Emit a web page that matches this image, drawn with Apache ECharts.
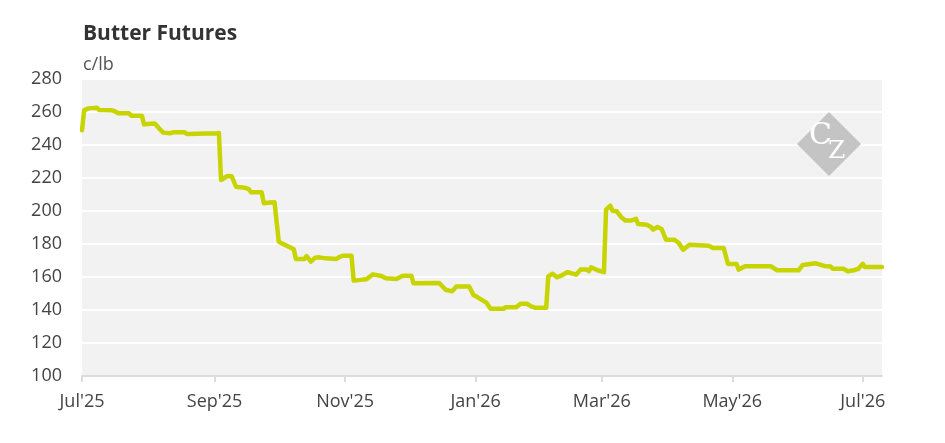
<!DOCTYPE html>
<html>
<head>
<meta charset="utf-8">
<script src="https://cdn.jsdelivr.net/npm/echarts@6/dist/echarts.min.js"></script>
<style>
  html, body { margin: 0; padding: 0; background: #fff; }
  #chart { width: 945px; height: 443px; }
</style>
</head>
<body>
<div id="chart"></div>
<script>
// butter futures, c/lb
const dates = [
  '2025-07-01', '2025-07-02', '2025-07-04', '2025-07-08', '2025-07-09', '2025-07-15', '2025-07-16', '2025-07-18',
  '2025-07-23', '2025-07-24', '2025-07-29', '2025-07-30', '2025-08-02', '2025-08-04', '2025-08-06', '2025-08-08',
  '2025-08-11', '2025-08-13', '2025-08-18', '2025-08-19', '2025-09-02', '2025-09-03', '2025-09-04', '2025-09-07',
  '2025-09-09', '2025-09-11', '2025-09-15', '2025-09-17', '2025-09-18', '2025-09-23', '2025-09-24', '2025-09-27',
  '2025-09-29', '2025-10-01', '2025-10-04', '2025-10-08', '2025-10-09', '2025-10-13', '2025-10-14', '2025-10-16',
  '2025-10-18', '2025-10-20', '2025-10-23', '2025-10-28', '2025-10-29', '2025-10-31', '2025-11-04', '2025-11-05',
  '2025-11-11', '2025-11-14', '2025-11-18', '2025-11-20', '2025-11-25', '2025-11-28', '2025-12-02', '2025-12-03',
  '2025-12-15', '2025-12-18', '2025-12-21', '2025-12-23', '2025-12-29', '2025-12-31', '2026-01-02', '2026-01-06',
  '2026-01-08', '2026-01-14', '2026-01-15', '2026-01-20', '2026-01-22', '2026-01-25', '2026-01-27', '2026-01-29',
  '2026-02-03', '2026-02-04', '2026-02-06', '2026-02-08', '2026-02-10', '2026-02-13', '2026-02-17', '2026-02-19',
  '2026-02-22', '2026-02-23', '2026-02-24', '2026-02-27', '2026-03-02', '2026-03-03', '2026-03-05', '2026-03-06',
  '2026-03-08', '2026-03-10', '2026-03-12', '2026-03-15', '2026-03-17', '2026-03-18', '2026-03-22', '2026-03-24',
  '2026-03-25', '2026-03-27', '2026-03-29', '2026-03-31', '2026-04-04', '2026-04-06', '2026-04-08', '2026-04-11',
  '2026-04-20', '2026-04-22', '2026-04-27', '2026-04-29', '2026-05-03', '2026-05-04', '2026-05-07', '2026-05-19',
  '2026-05-22', '2026-06-01', '2026-06-03', '2026-06-09', '2026-06-13', '2026-06-16', '2026-06-17', '2026-06-22',
  '2026-06-24', '2026-06-27', '2026-06-29', '2026-07-01', '2026-07-02', '2026-07-10'
];
const prices = [
  249.0, 261.0, 262.2, 262.6, 261.2, 261.0, 260.6, 259.2,
  259.2, 257.8, 257.8, 252.5, 252.9, 253.1, 250.1, 247.5,
  247.1, 247.7, 247.7, 246.7, 247.1, 247.3, 218.8, 221.2,
  221.0, 214.7, 214.1, 213.2, 211.3, 211.3, 204.7, 205.1,
  205.3, 181.4, 179.4, 176.8, 170.9, 170.9, 172.7, 169.3,
  171.7, 171.9, 171.3, 170.9, 171.9, 172.9, 172.9, 157.8,
  158.6, 161.6, 160.6, 159.2, 158.8, 160.8, 160.8, 156.2,
  156.4, 152.3, 151.3, 154.3, 154.3, 149.1, 147.7, 144.5,
  140.7, 140.7, 141.7, 141.7, 143.8, 143.8, 142.2, 141.3,
  141.3, 160.4, 162.0, 159.8, 160.8, 163.0, 161.4, 164.5,
  164.5, 163.5, 165.9, 164.1, 162.9, 200.8, 203.2, 200.2,
  199.8, 196.4, 194.3, 194.3, 195.3, 192.1, 191.7, 190.3,
  188.7, 190.3, 189.1, 182.6, 182.6, 180.6, 176.5, 179.6,
  179.0, 177.6, 177.6, 167.9, 167.9, 164.5, 166.5, 166.5,
  164.1, 164.1, 167.3, 168.3, 166.7, 166.4, 165.0, 165.0,
  163.5, 164.1, 165.0, 168.0, 166.0, 166.0
];
const xTicks = ['2025-07-01', '2025-09-01', '2025-11-01', '2026-01-01', '2026-03-01', '2026-05-01', '2026-07-01'];
const xStart = '2025-07-01', xEnd = '2026-07-10';
const monthNames = ['Jan', 'Feb', 'Mar', 'Apr', 'May', 'Jun', 'Jul', 'Aug', 'Sep', 'Oct', 'Nov', 'Dec'];
const yMin = 100, yMax = 280, yStep = 20;

const font = '"Open Sans", "Noto Sans", sans-serif';
const ts = d => Date.parse(d + 'T00:00:00Z');
const tickTimes = xTicks.map(ts);
const chart = echarts.init(document.getElementById('chart'));

chart.setOption({
  animation: false,
  title: {
    text: 'Butter Futures',
    subtext: 'c/lb',
    left: 78,
    top: 19,
    itemGap: 11,
    textStyle: { fontFamily: font, fontSize: 21, fontWeight: 'bold', color: '#333' },
    subtextStyle: { fontFamily: font, fontSize: 18, color: '#555' }
  },
  grid: {
    left: 82, right: 63, top: 79, bottom: 67,
    show: true, backgroundColor: '#f2f2f2', borderWidth: 0
  },
  xAxis: {
    type: 'value',
    min: ts(xStart),
    max: ts(xEnd),
    axisLine: { show: true, lineStyle: { color: '#dcdcdc', width: 2 } },
    axisTick: { show: true, customValues: tickTimes, length: 6, lineStyle: { color: '#dcdcdc', width: 2 } },
    splitLine: { show: false },
    axisLabel: {
      customValues: tickTimes,
      margin: 17,
      fontFamily: font, fontSize: 18, color: '#444',
      formatter: v => {
        const d = new Date(v);
        return monthNames[d.getUTCMonth()] + "'" + String(d.getUTCFullYear()).slice(2);
      }
    }
  },
  yAxis: {
    type: 'value',
    min: yMin, max: yMax, interval: yStep,
    axisLine: { show: false },
    axisTick: { show: false },
    splitLine: { lineStyle: { color: '#ffffff', width: 2 } },
    axisLabel: { margin: 20, fontFamily: font, fontSize: 18, color: '#444' }
  },
  graphic: [
    {
      type: 'polygon',
      z: 1,
      shape: { points: [[829, 112], [861, 144], [829, 176], [797, 144]] },
      style: { fill: '#c4c4c4' }
    },
    {
      type: 'text', z: 2, left: 809, top: 121,
      style: { text: 'C', fill: '#ffffff', font: '30px "DejaVu Serif", serif' }
    },
    {
      type: 'text', z: 2, left: 828, top: 139,
      style: { text: 'Z', fill: '#ffffff', font: '25px "DejaVu Serif", serif' }
    }
  ],
  series: [{
    type: 'line',
    data: dates.map((d, i) => [ts(d), prices[i]]),
    showSymbol: false,
    z: 5,
    lineStyle: { color: '#c8d400', width: 4.5, cap: 'round', join: 'round' }
  }]
});
</script>
</body>
</html>
